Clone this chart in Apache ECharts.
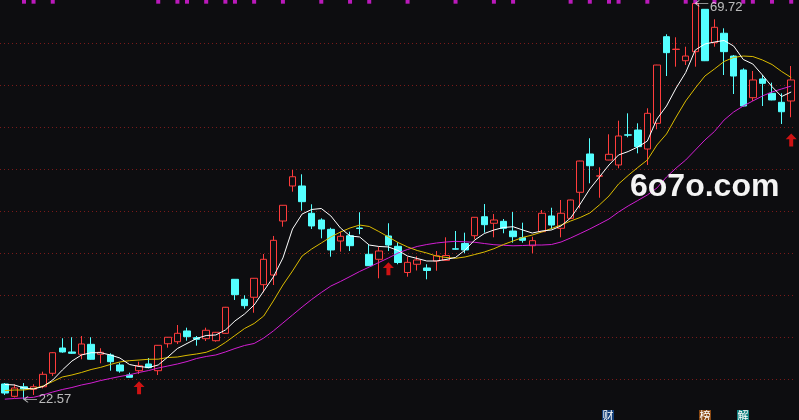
<!DOCTYPE html>
<html><head><meta charset="utf-8">
<script src="https://cdn.jsdelivr.net/npm/echarts@6/dist/echarts.min.js"></script>
<style>html,body{margin:0;padding:0;background:#0d0d10;}#c{width:799px;height:420px;}</style>
</head><body><div id="c"></div>
<script>
// ---- data ----
const categories = Array.from({length: 83}, (_, i) => 'D' + (i + 1));
// [open, close, low, high]
const candles = [
[24.41,23.33,23.10,24.52],[22.94,23.93,22.80,24.37],[24.08,23.81,22.57,24.52],[23.78,24.08,23.10,24.37],
[24.08,25.56,23.89,25.87],[25.68,28.13,25.36,28.20],[28.69,28.22,28.13,29.85],[28.22,28.06,27.98,29.97],
[27.94,29.17,27.35,30.12],[29.13,27.35,27.30,29.97],[27.94,28.18,26.87,28.66],[27.86,27.06,25.99,28.06],
[26.67,25.95,25.75,26.94],[25.48,25.20,25.15,25.75],[25.99,26.58,25.60,27.06],[26.79,26.35,26.27,27.50],
[25.99,29.01,25.48,29.05],[29.20,29.97,28.73,30.00],[29.44,30.44,29.17,31.43],[30.72,30.04,29.56,31.11],
[29.92,29.73,28.97,30.12],[29.80,30.80,29.52,31.11],[29.56,30.56,29.44,30.60],[30.44,33.54,30.40,33.58],
[36.87,35.04,34.41,36.90],[34.49,33.73,33.37,34.97],[34.73,36.99,32.89,37.02],[36.23,39.25,35.32,39.88],
[37.38,41.51,36.19,42.03],[43.81,45.68,43.13,45.70],[47.98,49.08,47.30,49.88],[47.98,46.11,45.04,49.37],
[44.73,43.22,42.86,45.80],[43.93,42.86,41.75,44.13],[42.82,40.36,39.56,43.01],[41.43,41.99,40.16,42.54],
[42.06,40.87,40.24,42.54],[42.97,42.92,42.23,44.85],[39.85,38.49,38.45,40.95],[39.25,40.24,36.99,40.72],
[42.03,40.95,40.24,43.54],[40.80,38.87,38.66,41.28],[37.68,38.89,37.18,39.56],[38.66,39.17,37.92,39.61],
[38.22,37.92,36.87,38.66],[39.05,39.67,37.89,40.24],[39.13,39.70,39.08,41.87],[40.50,40.46,40.39,42.62],
[41.13,40.36,39.97,42.42],[42.06,44.25,41.63,44.28],[44.32,43.37,42.42,45.83],[43.54,43.93,41.87,44.64],
[43.77,42.94,42.35,44.05],[42.62,41.94,41.23,44.88],[41.82,41.51,41.23,43.61],[40.87,41.47,39.97,41.94],
[42.54,44.73,42.50,45.12],[44.41,43.33,42.82,45.39],[42.94,44.73,41.87,46.31],[44.13,46.31,44.10,46.35],
[47.23,50.95,45.32,50.98],[51.79,50.39,48.30,53.66],[49.15,49.19,46.58,50.20],[51.07,51.75,51.05,54.13],
[50.48,53.93,50.08,55.75],[54.07,54.03,53.78,56.63],[54.64,52.66,51.87,55.44],[52.38,56.63,50.48,57.23],
[55.44,62.38,54.73,62.40],[65.75,63.85,61.07,66.04],[64.23,64.27,62.18,65.68],[62.89,63.45,62.38,64.56],
[63.97,69.70,62.18,69.72],[69.01,62.89,62.85,69.05],[65.04,66.87,64.56,67.82],[66.16,63.97,61.19,66.75],
[63.45,61.07,58.93,63.57],[61.79,57.50,57.45,61.99],[58.49,60.60,58.10,61.67],[60.72,60.20,57.50,61.19],
[59.01,58.22,58.18,60.28],[57.94,56.82,55.36,59.01],[58.10,60.60,56.16,62.26]
];
const maWhite = [24.35,24.29,23.93,23.81,24.11,24.88,26.07,27.14,27.86,28.13,28.13,27.86,27.50,26.73,26.49,26.37,26.67,27.62,28.63,29.23,29.82,30.18,30.24,30.83,31.91,32.74,33.81,35.48,37.14,39.41,42.86,44.64,45.18,45.30,44.41,42.98,42.03,41.91,40.95,40.78,40.72,40.30,39.64,39.35,39.05,39.05,39.23,39.47,40.36,41.55,42.32,42.74,43.04,43.13,42.74,42.38,42.62,42.74,43.22,44.17,45.83,47.62,49.05,50.48,51.67,52.08,52.62,53.33,55.95,57.50,59.64,61.49,64.17,64.88,65.12,65.30,64.64,63.04,62.50,61.19,59.80,58.63,59.17];
const maYellow = [23.63,23.69,23.69,23.87,24.17,24.70,25.24,25.48,25.78,26.13,26.39,26.73,27.03,27.18,27.26,27.35,27.36,27.56,27.62,27.82,27.98,28.18,28.63,29.35,30.18,31.01,31.61,32.50,34.29,36.19,37.86,39.64,40.48,41.19,41.91,42.50,42.98,43.33,43.16,42.56,41.91,41.25,40.72,40.30,40.00,39.64,39.47,39.37,39.53,39.82,40.12,40.51,41.01,41.43,41.85,42.14,42.50,42.92,43.33,43.81,44.23,44.76,45.72,46.79,48.22,49.23,50.18,51.07,52.86,54.17,56.19,58.10,59.64,61.07,61.91,62.80,63.28,63.45,63.39,62.98,62.44,61.61,60.89];
const maMagenta = [22.60,22.68,22.74,22.82,23.10,23.45,23.75,23.99,24.29,24.52,24.82,25.06,25.30,25.50,25.78,26.01,26.31,26.55,26.79,27.08,27.44,27.68,27.86,28.22,28.63,28.99,29.23,29.88,30.72,31.67,32.62,33.57,34.47,35.30,36.07,36.61,37.20,37.80,38.33,38.87,39.41,40.00,40.42,40.78,41.01,41.19,41.31,41.39,41.33,41.28,41.13,40.99,40.92,40.86,40.89,40.95,40.95,41.01,41.31,41.79,42.32,42.86,43.45,44.05,44.88,45.60,46.25,46.91,47.74,49.05,50.12,51.07,52.26,53.45,54.47,55.83,56.79,57.50,58.10,58.69,59.17,59.53,59.88];
const gridLevels = [25, 30, 35, 40, 45, 50, 55, 60, 65];
const arrowIdx = [14, 40, 82];
const arrowVal = [23.95, 38.12, 53.45];
const markerIdx = [2,3,5,16,18,19,21,23,24,26,29,33,36,38,42,47,51,53,59,61,63,64,67,71,72,74,77,78,80,82];
const markerLevel = 69.92;
const extremeIdx = [2, 72];
const extremeVal = [22.57, 69.72];
const extremeLabelOffset = [[0, 0], [0, 4]];
const watermark = '6o7o.com';
const badges = [
  {text: '财', fill: '#123e78', left: 602},
  {text: '榜', fill: '#8a4812', left: 699},
  {text: '解', fill: '#128282', left: 737}
];

const BG = '#0d0d10';
const chart = echarts.init(document.getElementById('c'), null, {renderer: 'canvas'});
chart.setOption({
  backgroundColor: BG,
  animation: false,
  grid: {left: 0, right: 3, top: 0, bottom: 0},
  xAxis: {type: 'category', data: categories, boundaryGap: true, show: false},
  yAxis: {type: 'value', min: 20.12, max: 70.12, show: false, splitLine: {show: false}},
  series: [
    {
      type: 'candlestick', data: candles, barWidth: 7, z: 2,
      itemStyle: {color: BG, color0: '#54ffff', borderColor: '#ff3c3c', borderColor0: '#54ffff', borderWidth: 1},
      markLine: {
        z: 1, silent: true, symbol: ['none', 'none'], label: {show: false},
        lineStyle: {color: '#7a1a1a', type: [1, 3], width: 1},
        data: gridLevels.map(v => ({yAxis: v}))
      }
    },
    {type: 'line', data: maMagenta, symbol: 'none', z: 3, lineStyle: {color: '#d21ed2', width: 1}},
    {type: 'line', data: maYellow, symbol: 'none', z: 3, lineStyle: {color: '#dcbc00', width: 1}},
    {type: 'line', data: maWhite, symbol: 'none', z: 4, lineStyle: {color: '#ffffff', width: 1}},
    {
      type: 'scatter', z: 5, symbol: 'path://M5,0L10,5.5L6.8,5.5L6.8,12.5L3.2,12.5L3.2,5.5L0,5.5Z', symbolSize: [11, 13],
      itemStyle: {color: '#ff1414'},
      data: arrowIdx.map((i, k) => [i, arrowVal[k]])
    },
    {
      type: 'scatter', z: 5, symbol: 'rect', symbolSize: [4, 4],
      itemStyle: {color: '#e61ee6'},
      data: markerIdx.map(i => [i, markerLevel])
    },
    {
      type: 'scatter', z: 6, symbol: 'path://M0,3L4,0M0,3L4,6M0,3L13,3', symbolSize: [13, 6], symbolOffset: [6.5, 0],
      itemStyle: {color: 'rgba(0,0,0,0)', borderColor: '#e6e6e6', borderWidth: 1},
      label: {show: true, position: 'right', distance: 1, color: '#e6e6e6', fontSize: 13,
        fontFamily: '"Liberation Sans", Arial, sans-serif', formatter: p => p.value[1].toFixed(2)},
      data: extremeIdx.map((i, k) => ({value: [i, extremeVal[k]], label: {offset: extremeLabelOffset[k]}}))
    }
  ],
  graphic: [
    {type: 'text', left: 630, top: 171, z: 10,
      style: {text: watermark, fill: '#f4f4f4', font: 'bold 32px "Liberation Sans", Arial, sans-serif'}}
  ].concat(badges.map(b => ({
    type: 'group', left: b.left, top: 410, z: 10,
    children: [
      {type: 'rect', shape: {x: 0, y: 0, width: 12, height: 12}, style: {fill: b.fill}},
      {type: 'text', x: 6, y: 6, style: {text: b.text, fill: '#ffffff', font: '11px "Noto Sans CJK SC"', align: 'center', verticalAlign: 'middle'}}
    ]
  })))
});
</script></body></html>
